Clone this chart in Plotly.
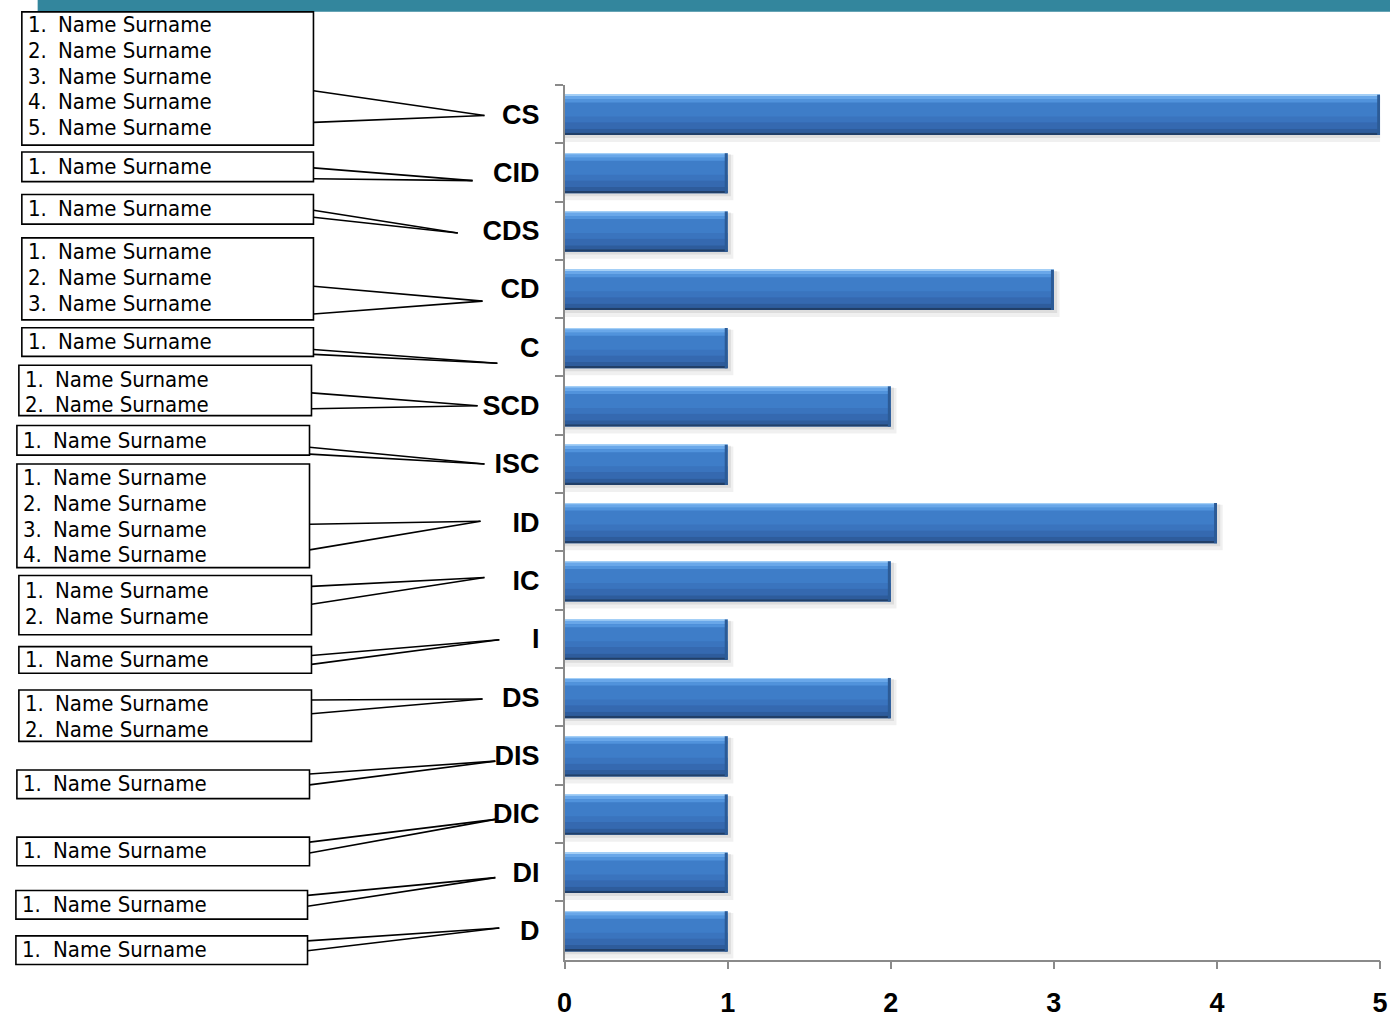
import plotly.graph_objects as go

# ---- data -------------------------------------------------------------
categories = ["CS", "CID", "CDS", "CD", "C", "SCD", "ISC", "ID", "IC", "I",
              "DS", "DIS", "DIC", "DI", "D"]
counts = [5, 1, 1, 3, 1, 2, 1, 4, 2, 1, 2, 1, 1, 1, 1]
members = [
    ["Name Surname", "Name Surname", "Name Surname", "Name Surname", "Name Surname"],
    ["Name Surname"],
    ["Name Surname"],
    ["Name Surname", "Name Surname", "Name Surname"],
    ["Name Surname"],
    ["Name Surname", "Name Surname"],
    ["Name Surname"],
    ["Name Surname", "Name Surname", "Name Surname", "Name Surname"],
    ["Name Surname", "Name Surname"],
    ["Name Surname"],
    ["Name Surname", "Name Surname"],
    ["Name Surname"],
    ["Name Surname"],
    ["Name Surname"],
    ["Name Surname"],
]
x_ticks = [0, 1, 2, 3, 4, 5]

# ---- callout geometry (pixels): box l, t, r, b, first text row y,
#      leader start y (upper, lower), leader tip x, y -------------------
callouts = [
    (14, 12, 309, 147, 25, 92, 124, 482, 117),
    (14, 154, 309, 184, 169, 170, 181, 470, 183),
    (14, 197, 309, 227, 211, 213, 220, 455, 236),
    (14, 241, 309, 324, 255, 290, 318, 480, 305),
    (14, 332, 309, 361, 346, 354, 359, 495, 368),
    (11, 370, 307, 421, 384, 398, 414, 475, 411),
    (9, 431, 305, 461, 446, 453, 460, 482, 470),
    (9, 470, 305, 575, 484, 531, 557, 478, 528),
    (11, 583, 307, 643, 598, 594, 612, 482, 585),
    (11, 655, 307, 682, 668, 664, 673, 497, 648),
    (11, 699, 307, 751, 713, 709, 723, 480, 708),
    (9, 780, 305, 809, 794, 784, 795, 493, 771),
    (9, 848, 305, 877, 862, 853, 864, 493, 830),
    (8, 902, 303, 931, 916, 907, 918, 493, 889),
    (8, 948, 303, 977, 962, 953, 963, 497, 940),
]
ROW_STEP = 26

W, H = 1398, 1018
X0, X1 = 563, 1388     # plot area, pixels
Y0, Y1 = 86, 972


def px(x):
    return x / W


def py(y):
    return 1 - y / H


fig = go.Figure()

# bar layers: (offset, width, color, length delta) -> bevelled, glossy look
n = len(categories)
layers = [
    (-0.30, 0.78, "rgba(0,0,0,0.06)", 0.035),   # outer soft shadow
    (-0.31, 0.72, "rgba(0,0,0,0.08)", 0.02),    # inner shadow
    (-0.33, 0.69, "#3e7dc8", 0.0),              # body
    (-0.33, 0.02, "#a4cff6", 0.0),              # top rim
    (-0.31, 0.06, "#69a7e9", 0.0),              # upper highlight
    (-0.25, 0.05, "#5193dc", 0.0),
    (0.04, 0.10, "#3a74be", 0.0),               # lower shading
    (0.14, 0.11, "#3569b0", 0.0),
    (0.25, 0.07, "#2e5c9c", 0.0),
    (0.32, 0.04, "#213f68", 0.0),               # bottom rim
]
for off, wid, col, dx in layers:
    fig.add_trace(go.Bar(
        y=categories, x=[c + dx for c in counts], orientation="h",
        offset=off, width=[wid] * n, marker=dict(color=col, line=dict(width=0)),
        hoverinfo="skip", showlegend=False,
    ))
# darker right edge of each bar
fig.add_trace(go.Bar(
    y=categories, x=[0.018] * n, base=[c - 0.018 for c in counts],
    orientation="h", offset=-0.33, width=[0.69] * n,
    marker=dict(color="#2c5b96", line=dict(width=0)),
    hoverinfo="skip", showlegend=False,
))

shapes = []
annotations = []

# banner across the top
shapes.append(dict(type="rect", xref="paper", yref="paper",
                   x0=px(30), x1=1, y0=py(12), y1=1.01,
                   fillcolor="#33869d", line=dict(width=0), layer="above"))

name_font = dict(family="DejaVu Sans Condensed, Liberation Sans Narrow, Arial Narrow, sans-serif",
                 size=22, color="#000000")

for names, (l, t, r, b, ty, ly1, ly2, tx, tyy) in zip(members, callouts):
    shapes.append(dict(type="rect", xref="paper", yref="paper",
                       x0=px(l), x1=px(r), y0=py(b), y1=py(t),
                       line=dict(color="#000000", width=1.6),
                       fillcolor="rgba(0,0,0,0)"))
    for ly in (ly1, ly2):
        shapes.append(dict(type="line", xref="paper", yref="paper",
                           x0=px(r), y0=py(ly), x1=px(tx), y1=py(tyy),
                           line=dict(color="#000000", width=1.6)))
    for k, name in enumerate(names):
        yy = ty + k * ROW_STEP
        annotations.append(dict(xref="paper", yref="paper", x=px(l + 4), y=py(yy),
                                text=f"{k + 1}.", showarrow=False,
                                xanchor="left", yanchor="middle", font=name_font))
        annotations.append(dict(xref="paper", yref="paper", x=px(l + 35), y=py(yy),
                                text=name, showarrow=False,
                                xanchor="left", yanchor="middle", font=name_font))

axis_col = "#8a8a8a"
label_font = dict(family="Liberation Sans, Arial, sans-serif", size=27, color="#000000")

fig.update_layout(
    width=W, height=H, autosize=False,
    margin=dict(l=0, r=0, t=0, b=0),
    paper_bgcolor="white", plot_bgcolor="white",
    barmode="overlay",
    showlegend=False,
    shapes=shapes,
    annotations=annotations,
    xaxis=dict(
        domain=[px(X0), px(X1)], range=[0, 5],
        tickvals=x_ticks, ticktext=[f"<b>{v}</b>" for v in x_ticks],
        ticks="outside", ticklen=8, tickcolor=axis_col, tickwidth=1.5,
        showline=True, linecolor=axis_col, linewidth=1.5,
        showgrid=False, zeroline=False, tickfont=label_font,
        ticklabelstandoff=10,
    ),
    yaxis=dict(
        domain=[1 - Y1 / H, 1 - Y0 / H],
        autorange="reversed", type="category",
        tickvals=categories, ticktext=[f"<b>{c}</b>" for c in categories],
        tickson="boundaries",
        ticks="outside", ticklen=8, tickcolor=axis_col, tickwidth=1.5,
        showline=True, linecolor=axis_col, linewidth=1.5,
        showgrid=False, zeroline=False, tickfont=label_font,
        ticklabelstandoff=18,
    ),
)

# fixed-size page: no body margin, no responsive resizing
fig.write_html("out.html",
               config={"responsive": False},
               post_script="document.body.style.margin='0';")
